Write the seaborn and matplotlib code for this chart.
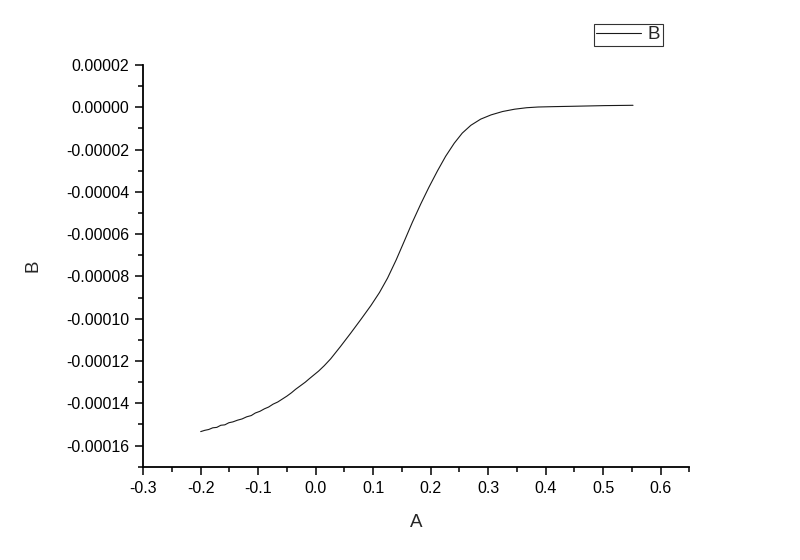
import numpy as np
import pandas as pd
import matplotlib
matplotlib.use("Agg")
import matplotlib.pyplot as plt
from matplotlib.ticker import MultipleLocator, FormatStrFormatter
import seaborn as sns

# values
a_vals = [-0.200, -0.193, -0.186, -0.179, -0.172, -0.165, -0.158, -0.151, -0.144,
          -0.136, -0.128, -0.120, -0.112, -0.105, -0.097, -0.089, -0.082, -0.074,
          -0.066, -0.058, -0.050, -0.042, -0.035, -0.026, -0.018, -0.012, -0.004,
          0.005, 0.015, 0.026, 0.043, 0.061, 0.079, 0.096, 0.111, 0.125, 0.140,
          0.154, 0.168, 0.183, 0.197, 0.212, 0.226, 0.241, 0.255, 0.270, 0.287,
          0.305, 0.325, 0.346, 0.367, 0.387, 0.415, 0.445, 0.475, 0.503, 0.530, 0.552]
b_vals = [-15.34, -15.28, -15.24, -15.16, -15.14, -15.04, -15.02, -14.92, -14.88,
          -14.80, -14.74, -14.64, -14.58, -14.46, -14.38, -14.26, -14.18, -14.04,
          -13.94, -13.80, -13.66, -13.50, -13.34, -13.16, -13.00, -12.86, -12.68,
          -12.48, -12.22, -11.90, -11.32, -10.68, -10.02, -9.38, -8.76, -8.08, -7.22,
          -6.34, -5.45, -4.56, -3.78, -3.00, -2.32, -1.70, -1.22, -0.85, -0.56,
          -0.36, -0.20, -0.09, -0.02, 0.014, 0.032, 0.047, 0.064, 0.080, 0.088, 0.095]
b_vals = [v * 1e-5 for v in b_vals]
series_name = "B"
x_label = "A"
y_label = "B"

df = pd.DataFrame({"A": a_vals, "B": b_vals, "series": series_name})

sns.set_style("ticks")
plt.rcParams["font.family"] = ["Liberation Sans", "DejaVu Sans"]
plt.rcParams["axes.unicode_minus"] = False

fig = plt.figure(figsize=(8, 5.6), dpi=100)
ax = fig.add_axes([0.179, 0.1666, 0.6827, 0.7173])

sns.lineplot(data=df, x="A", y="B", hue="series", palette=["#1a1a1a"],
             sort=False, linewidth=0.8, ax=ax, legend=False)

ax.set_xlim(-0.3, 0.65)
ax.set_ylim(-0.00017, 0.00002)
ax.xaxis.set_major_locator(MultipleLocator(0.1))
ax.xaxis.set_minor_locator(MultipleLocator(0.05))
ax.yaxis.set_major_locator(MultipleLocator(0.00002))
ax.yaxis.set_minor_locator(MultipleLocator(0.00001))
ax.xaxis.set_major_formatter(FormatStrFormatter("%.1f"))
ax.yaxis.set_major_formatter(FormatStrFormatter("%.5f"))

for side in ["top", "right"]:
    ax.spines[side].set_visible(False)
for side in ["left", "bottom"]:
    ax.spines[side].set_linewidth(1.3)
    ax.spines[side].set_color("black")

ax.tick_params(which="major", direction="out", length=6, width=1.1,
               labelsize=11.5, colors="black", pad=4)
ax.tick_params(which="minor", direction="out", length=3.5, width=1.1, colors="black")

ax.set_xlabel(x_label, fontsize=13.5, labelpad=13)
ax.set_ylabel(y_label, fontsize=13.5, labelpad=18)

handle = plt.Line2D([], [], color="#1a1a1a", linewidth=0.8)
leg = fig.legend([handle], [series_name], loc="upper left",
                 bbox_to_anchor=(0.742, 0.958), frameon=True, fancybox=False,
                 fontsize=13.5, handlelength=2.4, handletextpad=0.35,
                 borderpad=0.15, borderaxespad=0)
leg.get_frame().set_edgecolor("black")
leg.get_frame().set_linewidth(0.8)

fig.savefig("out.png", dpi=100)
